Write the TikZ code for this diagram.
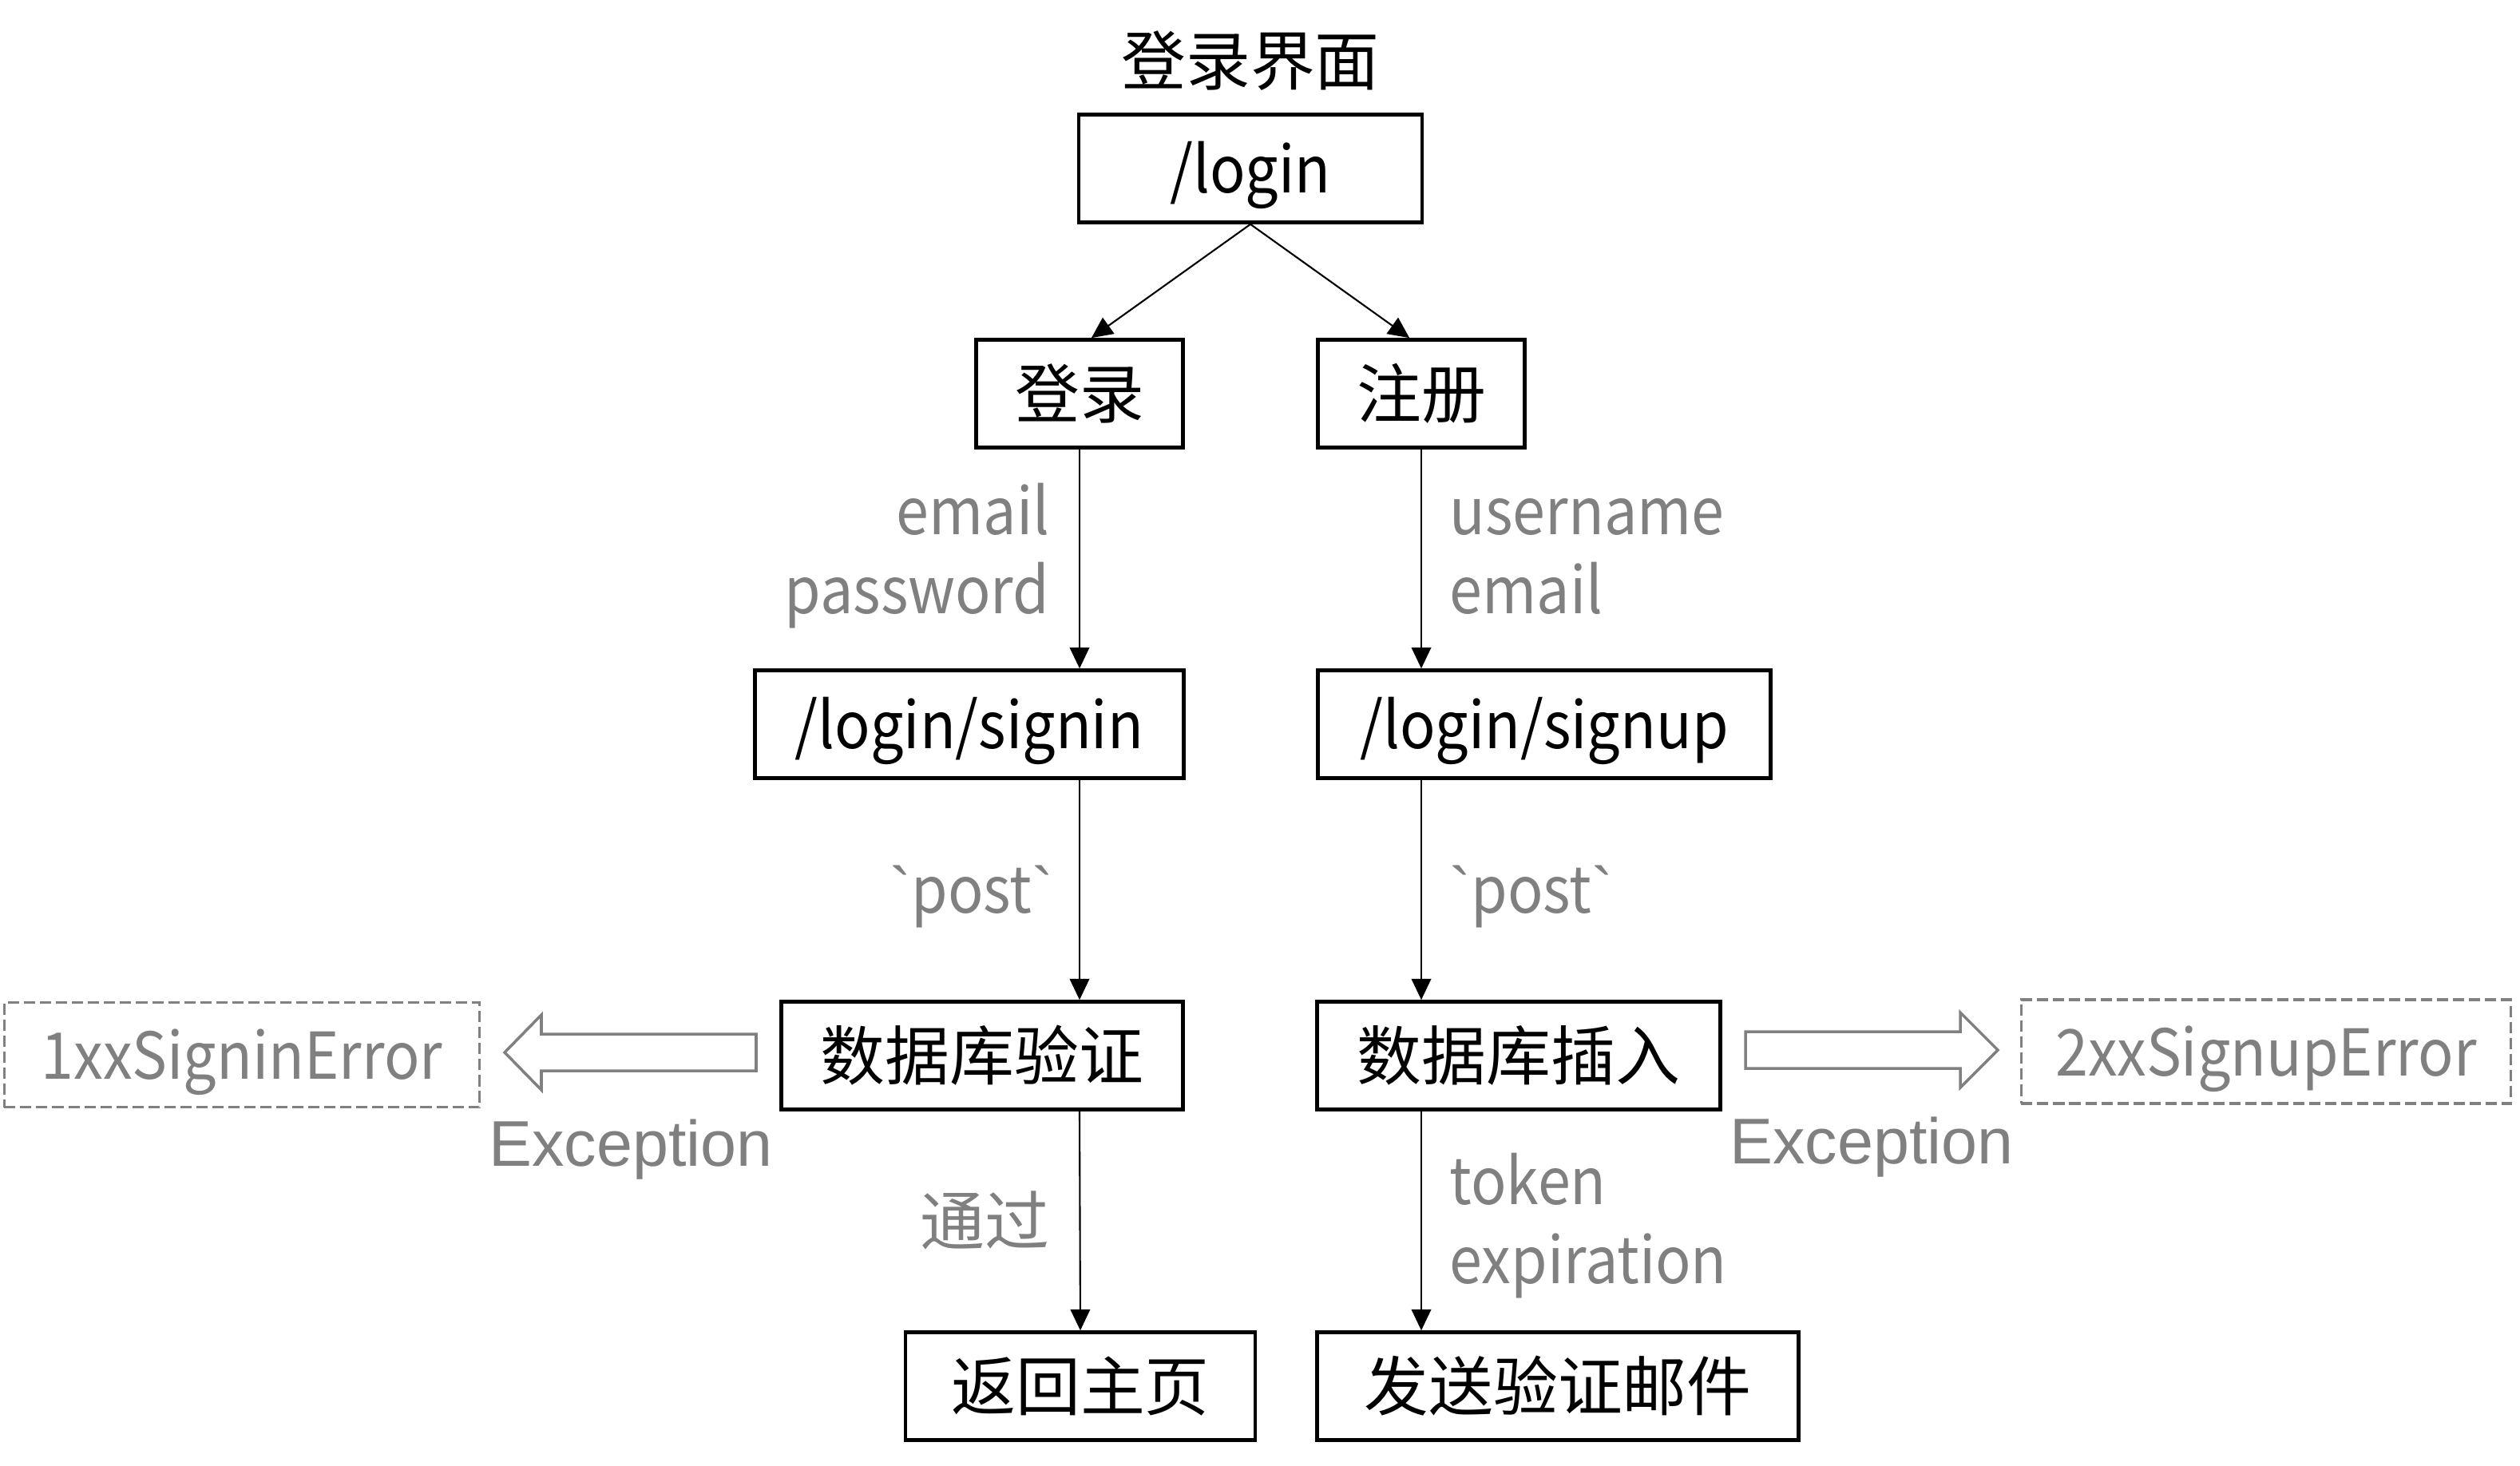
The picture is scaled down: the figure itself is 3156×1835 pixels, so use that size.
\documentclass[tikz,border=0pt]{standalone}
\usepackage{fontspec}
\newfontfamily\cjk{Noto Sans CJK SC}
\newfontfamily\latin[FakeStretch=0.91]{Noto Sans CJK SC}
\newfontfamily\arialfont{Liberation Sans}
\usetikzlibrary{arrows.meta}
\begin{document}
\begin{tikzpicture}[x=0.01cm,y=-0.01cm,
    box/.style={draw,line width=1.3pt,minimum height=1.35cm,inner sep=0pt,text height=19.5pt,text depth=2.3pt,font=\cjk\fontsize{23pt}{28pt}\selectfont},
    lat/.style={font=\latin\fontsize{23pt}{28pt}\selectfont},
    lbl/.style={text=gray,inner sep=0pt,font=\latin\fontsize{23pt}{28pt}\selectfont},
    errbox/.style={draw=gray,dash pattern=on 4pt off 1.7pt,line width=1pt,text=gray,minimum height=1.31cm,inner sep=0pt,text height=19.5pt,text depth=2.3pt,lat},
    link/.style={line width=0.6pt,-{Triangle[length=7.5pt,width=7pt]}},
    fat/.style={draw=gray,line width=1pt,line join=miter}]
  \useasboundingbox (0,0) rectangle (3156,1835);
  % boxes
  \node[box,draw=none] (title) at (1566,76) {登录界面};
  \node[box,lat,minimum width=4.30cm] (login) at (1566,211) {/login};
  \node[box,minimum width=2.59cm] (denglu) at (1352,493) {登录};
  \node[box,minimum width=2.59cm] (zhuce) at (1780,493) {注册};
  \node[box,lat,minimum width=5.37cm] (signin) at (1214,907) {/login/signin};
  \node[box,lat,minimum width=5.67cm] (signup) at (1934,907) {/login/signup};
  \node[box,minimum width=5.03cm] (yanzheng) at (1230,1322) {数据库验证};
  \node[box,minimum width=5.05cm] (charu) at (1902,1322) {数据库插入};
  \node[box,minimum width=4.38cm] (fanhui) at (1353,1736) {返回主页};
  \node[box,minimum width=6.03cm] (youjian) at (1951,1736) {发送验证邮件};
  \node[errbox,minimum width=5.95cm] (err1) at (303,1321) {1xxSigninError};
  \node[errbox,minimum width=6.13cm,minimum height=1.30cm] (err2) at (2838,1317) {2xxSignupError};
  % labels
  \node[lbl,anchor=base east] (email1) at (1315,669) {email};
  \node[lbl,anchor=base east] (pwd) at (1315,768) {password};
  \node[lbl,anchor=base west] (uname) at (1815,669) {username};
  \node[lbl,anchor=base west] (email2) at (1815,768) {email};
  \node[lbl,anchor=base east] (post1) at (1320,1143) {{\arialfont\textasciigrave}post{\arialfont\textasciigrave}};
  \node[lbl,anchor=base west] (post2) at (1815,1143) {{\arialfont\textasciigrave}post{\arialfont\textasciigrave}};
  \node[lbl,anchor=east,font=\cjk\fontsize{23pt}{28pt}\selectfont] (tongguo) at (1315,1528) {通过};
  \node[lbl,anchor=base west] (token) at (1815,1508) {token};
  \node[lbl,anchor=base west] (expir) at (1815,1607) {expiration};
  \node[lbl,anchor=base,font=\arialfont\fontsize{23pt}{28pt}\selectfont] (exc1) at (790,1460) {Exception};
  \node[lbl,anchor=base,font=\arialfont\fontsize{23pt}{28pt}\selectfont] (exc2) at (2344,1457) {Exception};
  % connectors
  \draw[link] (login.south) -- (denglu.78);
  \draw[link] (login.south) -- (zhuce.102);
  \draw[link] (denglu.south) -- (denglu.south |- signin.north);
  \draw[link] (zhuce.south) -- (zhuce.south |- signup.north);
  \draw[link] (signin.south -| denglu.south) -- (yanzheng.north -| denglu.south);
  \draw[link] (signup.south -| zhuce.south) -- (charu.north -| zhuce.south);
  \draw[link] (yanzheng.south -| denglu.south) -- (fanhui.north);
  \draw[link] (charu.south -| zhuce.south) -- (youjian.north -| zhuce.south);
  % block arrows
  \draw[fat] (632,1318)--(678,1271)--(678,1295)--(947,1295)--(947,1341)--(678,1341)--(678,1365)--cycle;
  \draw[fat] (2502,1315)--(2455,1268)--(2455,1292)--(2186,1292)--(2186,1338)--(2455,1338)--(2455,1362)--cycle;
\end{tikzpicture}
\end{document}
